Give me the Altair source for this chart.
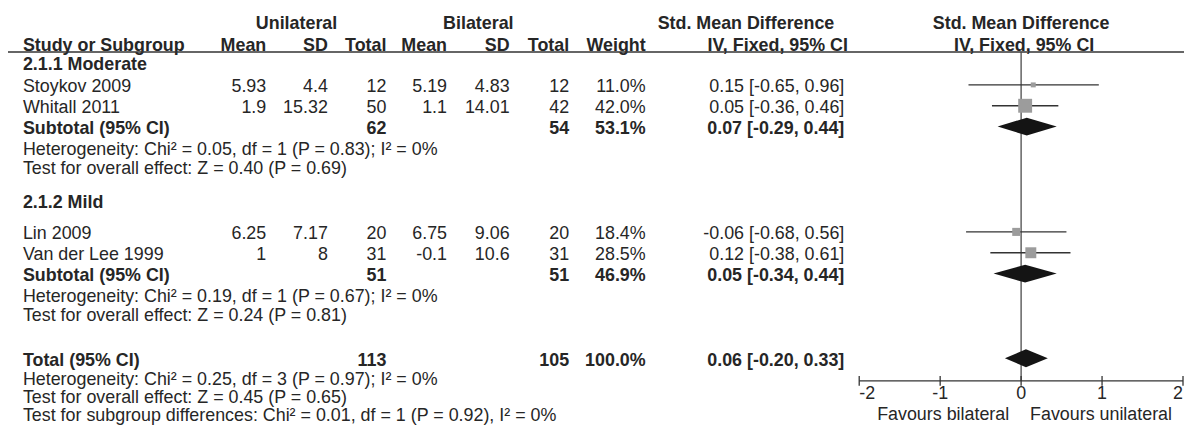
import altair as alt
import pandas as pd

# ---------------- data ----------------
studies = ["Stoykov 2009", "Whitall 2011", "Lin 2009", "Van der Lee 1999"]
uni_mean = [5.93, 1.9, 6.25, 1]
uni_sd = [4.4, 15.32, 7.17, 8]
uni_n = [12, 50, 20, 31]
bi_mean = [5.19, 1.1, 6.75, -0.1]
bi_sd = [4.83, 14.01, 9.06, 10.6]
bi_n = [12, 42, 20, 31]
weights = [11.0, 42.0, 18.4, 28.5]
smd = [0.15, 0.05, -0.06, 0.12]
ci_lo = [-0.65, -0.36, -0.68, -0.38]
ci_hi = [0.96, 0.46, 0.56, 0.61]

groups = ["2.1.1 Moderate", "2.1.2 Mild"]
pooled_labels = ["Subtotal (95% CI)", "Subtotal (95% CI)", "Total (95% CI)"]
pooled_uni_n = [62, 51, 113]
pooled_bi_n = [54, 51, 105]
pooled_weight = [53.1, 46.9, 100.0]
pooled_smd = [0.07, 0.05, 0.06]
pooled_lo = [-0.29, -0.34, -0.20]
pooled_hi = [0.44, 0.44, 0.33]

het_chi2 = [0.05, 0.19, 0.25]
het_df = [1, 1, 3]
het_p = [0.83, 0.67, 0.97]
het_i2 = [0, 0, 0]
z_vals = [0.40, 0.24, 0.45]
z_p = [0.69, 0.81, 0.65]
sub_chi2, sub_df, sub_p, sub_i2 = 0.01, 1, 0.92, 0

axis_ticks = [-2, -1, 0, 1, 2]
axis_labels = ["-2", "-1", "0", "1", "2"]
favours = ["Favours bilateral", "Favours unilateral"]

group_header_1 = ["Unilateral", "Bilateral", "Std. Mean Difference", "Std. Mean Difference"]
col_header_2 = ["Study or Subgroup", "Mean", "SD", "Total", "Mean", "SD", "Total",
                "Weight", "IV, Fixed, 95% CI", "IV, Fixed, 95% CI"]

# ---------------- layout (reference pixel coords) ----------------
OFF = 8
W, H = 1184, 417
FONT = "Liberation Sans"
FS = 18
TXT = "#262626"


def cx(v):
    return v - OFF


def cy(v):
    return v - OFF


COLX = dict(name=23, uni_mean=268, uni_sd=330, uni_n=389, bi_mean=450,
            bi_sd=513, bi_n=573, weight=650, ci=850)
H1_X = [298.5, 481.5, 751, 1028]
H2_X = [23, 268, 330, 389, 450, 513, 573, 650, 783, 1031]
H2_STYLE = ["lb", "rb", "rb", "rb", "rb", "rb", "rb", "rb", "cb", "cb"]
Y_H1, Y_H2, Y_RULE = 27.5, 49.5, 51
Y_GROUP = [68.5, 208]
Y_STUDY = [91.5, 112.5, 239.5, 260.5]
Y_POOLED = [133.5, 281.5, 366.7]
Y_HET = [154.5, 302.5, 385.9]
Y_TEST = [173.5, 321.5, 404.3]
Y_SUBGROUP = 422.7
LINE_DY = -7.5           # CI line / diamond centre sits above text baseline
DIAMOND_HALF = 9
Y_AXIS, Y_TICKLAB, Y_FAV = 382, 400.5, 421
TICK_HALF = 5
FOREST_RANGE = [cx(865), cx(1191)]


def fmt(v):
    return f"{v:g}"


cells = []


def add(text, x, y, style):
    cells.append(dict(text=text, px=cx(x), y=cy(y), style=style))


for t, x in zip(group_header_1, H1_X):
    add(t, x, Y_H1, "cb")
for t, x, s in zip(col_header_2, H2_X, H2_STYLE):
    add(t, x, Y_H2, s)
for g, y in zip(groups, Y_GROUP):
    add(g, COLX["name"], y, "lb")
for i, name in enumerate(studies):
    y = Y_STUDY[i]
    add(name, COLX["name"], y, "l")
    add(fmt(uni_mean[i]), COLX["uni_mean"], y, "r")
    add(fmt(uni_sd[i]), COLX["uni_sd"], y, "r")
    add(str(uni_n[i]), COLX["uni_n"], y, "r")
    add(fmt(bi_mean[i]), COLX["bi_mean"], y, "r")
    add(fmt(bi_sd[i]), COLX["bi_sd"], y, "r")
    add(str(bi_n[i]), COLX["bi_n"], y, "r")
    add(f"{weights[i]:.1f}%", COLX["weight"], y, "r")
    add(f"{smd[i]:.2f} [{ci_lo[i]:.2f}, {ci_hi[i]:.2f}]", COLX["ci"], y, "r")
for i, lab in enumerate(pooled_labels):
    y = Y_POOLED[i]
    add(lab, COLX["name"], y, "lb")
    add(str(pooled_uni_n[i]), COLX["uni_n"], y, "rb")
    add(str(pooled_bi_n[i]), COLX["bi_n"], y, "rb")
    add(f"{pooled_weight[i]:.1f}%", COLX["weight"], y, "rb")
    add(f"{pooled_smd[i]:.2f} [{pooled_lo[i]:.2f}, {pooled_hi[i]:.2f}]", COLX["ci"], y, "rb")
for i in range(3):
    add(f"Heterogeneity: Chi² = {het_chi2[i]:.2f}, df = {het_df[i]} (P = {het_p[i]:.2f}); I² = {het_i2[i]}%",
        COLX["name"], Y_HET[i], "l")
    add(f"Test for overall effect: Z = {z_vals[i]:.2f} (P = {z_p[i]:.2f})",
        COLX["name"], Y_TEST[i], "l")
add(f"Test for subgroup differences: Chi² = {sub_chi2:.2f}, df = {sub_df} (P = {sub_p:.2f}), I² = {sub_i2}%",
    COLX["name"], Y_SUBGROUP, "l")

cells_df = pd.DataFrame(cells)

px_scale = alt.Scale(domain=[0, W], range=[0, W], nice=False, zero=False)
y_scale = alt.Scale(domain=[0, H], range=[0, H], nice=False, zero=False)
fx_scale = alt.Scale(domain=[-2, 2], range=FOREST_RANGE, nice=False, zero=False)

STYLES = {"l": ("left", "normal"), "lb": ("left", "bold"), "r": ("right", "normal"),
          "rb": ("right", "bold"), "cb": ("center", "bold")}

layers = []
for key, (al, wt) in STYLES.items():
    layers.append(
        alt.Chart(cells_df).transform_filter(alt.datum.style == key)
        .mark_text(align=al, baseline="alphabetic", font=FONT, fontSize=FS,
                   fontWeight=wt, color=TXT)
        .encode(x=alt.X("px:Q", scale=px_scale, axis=None),
                y=alt.Y("y:Q", scale=y_scale, axis=None),
                text="text:N")
    )

# header rule
rule_df = pd.DataFrame([dict(a=0, b=W, y=cy(Y_RULE))])
layers.append(
    alt.Chart(rule_df).mark_rule(color="#333333", strokeWidth=1.5)
    .encode(x=alt.X("a:Q", scale=px_scale, axis=None), x2="b:Q",
            y=alt.Y("y:Q", scale=y_scale, axis=None))
)

# zero line
zero_df = pd.DataFrame([dict(zx=0, y1=cy(Y_RULE), y2=cy(Y_AXIS))])
layers.append(
    alt.Chart(zero_df).mark_rule(color="#4a4a4a", strokeWidth=1.3)
    .encode(x=alt.X("zx:Q", scale=fx_scale, axis=None),
            y=alt.Y("y1:Q", scale=y_scale, axis=None), y2="y2:Q")
)

# study CIs and squares
study_df = pd.DataFrame(dict(study=studies, smd=smd, lo=ci_lo, hi=ci_hi, w=weights,
                             yl=[cy(y + LINE_DY) for y in Y_STUDY]))
layers.append(
    alt.Chart(study_df).mark_rule(color="#333333", strokeWidth=1.3)
    .encode(x=alt.X("lo:Q", scale=fx_scale, axis=None), x2="hi:Q",
            y=alt.Y("yl:Q", scale=y_scale, axis=None))
)
layers.append(
    alt.Chart(study_df).mark_square(filled=True, color="#9c9c9c", opacity=1)
    .encode(x=alt.X("smd:Q", scale=fx_scale, axis=None),
            y=alt.Y("yl:Q", scale=y_scale, axis=None),
            size=alt.Size("w:Q", scale=alt.Scale(domain=[11, 42], range=[25, 196]), legend=None))
)

# diamonds (one area layer per pooled estimate)
for i in range(3):
    yc = cy(Y_POOLED[i] + LINE_DY)
    ddf = pd.DataFrame(dict(ex=[pooled_lo[i], pooled_smd[i], pooled_hi[i]],
                            ya=[yc, yc - DIAMOND_HALF, yc],
                            yb=[yc, yc + DIAMOND_HALF, yc]))
    layers.append(
        alt.Chart(ddf).mark_area(color="#141414")
        .encode(x=alt.X("ex:Q", scale=fx_scale, axis=None),
                y=alt.Y("ya:Q", scale=y_scale, axis=None), y2="yb:Q")
    )

# forest axis
axl_df = pd.DataFrame([dict(a=axis_ticks[0], b=axis_ticks[-1], y=cy(Y_AXIS))])
layers.append(
    alt.Chart(axl_df).mark_rule(color="#333333", strokeWidth=1.3)
    .encode(x=alt.X("a:Q", scale=fx_scale, axis=None), x2="b:Q",
            y=alt.Y("y:Q", scale=y_scale, axis=None))
)
n_t = len(axis_ticks)
tick_df = pd.DataFrame(dict(t=axis_ticks, lab=axis_labels,
                            pos=["first"] + ["mid"] * (n_t - 2) + ["last"],
                            y1=[cy(Y_AXIS - TICK_HALF)] * n_t, y2=[cy(Y_AXIS + TICK_HALF)] * n_t,
                            yl=[cy(Y_TICKLAB)] * n_t))
layers.append(
    alt.Chart(tick_df).mark_rule(color="#333333", strokeWidth=1.3)
    .encode(x=alt.X("t:Q", scale=fx_scale, axis=None),
            y=alt.Y("y1:Q", scale=y_scale, axis=None), y2="y2:Q")
)
for pos, al in [("first", "left"), ("mid", "center"), ("last", "right")]:
    layers.append(
        alt.Chart(tick_df).transform_filter(alt.datum.pos == pos)
        .mark_text(align=al, baseline="alphabetic", font=FONT, fontSize=FS, color=TXT)
        .encode(x=alt.X("t:Q", scale=fx_scale, axis=None),
                y=alt.Y("yl:Q", scale=y_scale, axis=None), text="lab:N")
    )
fav_df = pd.DataFrame(dict(fx=[0, 0], lab=favours, y=[cy(Y_FAV)] * 2, side=["L", "R"]))
layers.append(
    alt.Chart(fav_df).transform_filter(alt.datum.side == "L")
    .mark_text(align="right", baseline="alphabetic", font=FONT, fontSize=FS, color=TXT, dx=-12)
    .encode(x=alt.X("fx:Q", scale=fx_scale, axis=None),
            y=alt.Y("y:Q", scale=y_scale, axis=None), text="lab:N")
)
layers.append(
    alt.Chart(fav_df).transform_filter(alt.datum.side == "R")
    .mark_text(align="left", baseline="alphabetic", font=FONT, fontSize=FS, color=TXT, dx=9)
    .encode(x=alt.X("fx:Q", scale=fx_scale, axis=None),
            y=alt.Y("y:Q", scale=y_scale, axis=None), text="lab:N")
)

chart = (
    alt.layer(*layers)
    .resolve_scale(x="independent")
    .properties(width=W, height=H, autosize=alt.AutoSizeParams(type="none"), padding=0,
                background="white")
    .configure_view(stroke=None)
)

chart.save("out.html", embed_options={"renderer": "svg", "actions": False})
